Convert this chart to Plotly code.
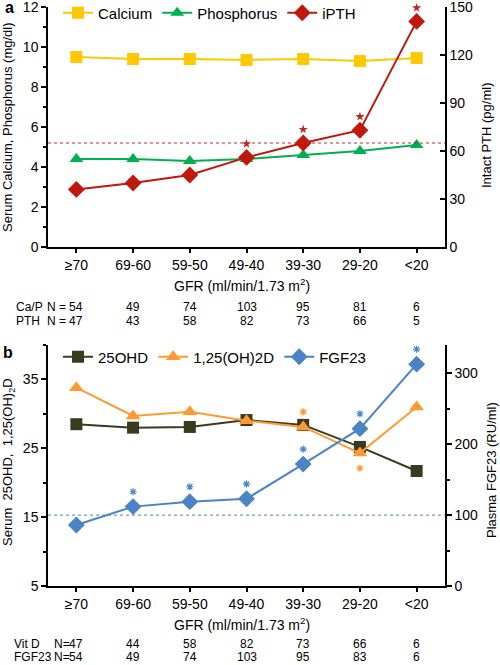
import plotly.graph_objects as go

# ---------------- data ----------------
gfr = ["≥70", "69-60", "59-50", "49-40", "39-30", "29-20", "<20"]

calcium = [9.5, 9.4, 9.4, 9.35, 9.4, 9.3, 9.45]
phosphorus = [4.4, 4.4, 4.3, 4.4, 4.6, 4.8, 5.1]
ipth = [36, 40, 45, 56, 65, 73, 141]
ipth_sig = [0, 0, 0, 1, 1, 1, 1]
pth_upper = 65
n_cap = [54, 49, 74, 103, 95, 81, 6]
n_pth = [47, 43, 58, 82, 73, 66, 5]

ohd25 = [28.5, 28.0, 28.1, 29.1, 28.4, 25.2, 21.7]
d125 = [33.8, 29.7, 30.3, 29.0, 28.1, 24.3, 31.0]
fgf23 = [86, 112, 119, 123, 172, 222, 313]
fgf_sig = [0, 1, 1, 1, 1, 1, 1]
d125_sig = [0, 0, 0, 0, 1, -1, 0]   # 1 = star above, -1 = star below
fgf_upper = 100
n_vitd = [47, 44, 58, 82, 73, 66, 6]
n_fgf = [54, 49, 74, 103, 95, 83, 6]

# ---------------- style ----------------
FONT = "Liberation Sans, Arial, sans-serif"
C_CA = "#FFC800"
C_P = "#00B050"
C_PTH = "#C0180C"
C_OHD = "#3A3A1E"
C_D125 = "#FF9A33"
C_FGF = "#4A84C4"

fig = go.Figure()

# ---- panel a ----
fig.add_trace(go.Scatter(x=gfr, y=calcium, name="Calcium", mode="lines+markers",
                         line=dict(color=C_CA, width=2),
                         marker=dict(symbol="square", size=12, color=C_CA),
                         xaxis="x", yaxis="y", legend="legend"))
fig.add_trace(go.Scatter(x=gfr, y=phosphorus, name="Phosphorus", mode="lines+markers",
                         line=dict(color=C_P, width=2),
                         marker=dict(symbol="triangle-up", size=12, color=C_P),
                         xaxis="x", yaxis="y", legend="legend"))
fig.add_trace(go.Scatter(x=gfr, y=ipth, name="iPTH", mode="lines+markers",
                         line=dict(color=C_PTH, width=2),
                         marker=dict(symbol="diamond", size=13, color=C_PTH),
                         xaxis="x", yaxis="y2", legend="legend"))
sx = [g for g, s in zip(gfr, ipth_sig) if s]
sy = [v + 8.5 for v, s in zip(ipth, ipth_sig) if s]
fig.add_trace(go.Scatter(x=sx, y=sy, mode="markers", showlegend=False, hoverinfo="skip",
                         cliponaxis=False,
                         marker=dict(symbol="star", size=7, color="#B8281E"),
                         xaxis="x", yaxis="y2"))

# ---- panel b ----
fig.add_trace(go.Scatter(x=gfr, y=ohd25, name="25OHD", mode="lines+markers",
                         line=dict(color=C_OHD, width=2),
                         marker=dict(symbol="square", size=12, color=C_OHD),
                         xaxis="x2", yaxis="y3", legend="legend2"))
fig.add_trace(go.Scatter(x=gfr, y=d125, name="1,25(OH)2D", mode="lines+markers",
                         line=dict(color=C_D125, width=2),
                         marker=dict(symbol="triangle-up", size=13, color=C_D125),
                         xaxis="x2", yaxis="y3", legend="legend2"))
fig.add_trace(go.Scatter(x=gfr, y=fgf23, name="FGF23", mode="lines+markers",
                         line=dict(color=C_FGF, width=2),
                         marker=dict(symbol="diamond", size=13, color=C_FGF),
                         xaxis="x2", yaxis="y4", legend="legend2"))
fx = [g for g, s in zip(gfr, fgf_sig) if s]
fy = [v + 21 for v, s in zip(fgf23, fgf_sig) if s]
fig.add_trace(go.Scatter(x=fx, y=fy, mode="markers", showlegend=False, hoverinfo="skip",
                         cliponaxis=False,
                         marker=dict(symbol="asterisk-open", size=6, color=C_FGF,
                                     line=dict(color=C_FGF, width=1.2)),
                         xaxis="x2", yaxis="y4"))
dx = [g for g, s in zip(gfr, d125_sig) if s]
dy = [v + 2.2 * s for v, s in zip(d125, d125_sig) if s]
fig.add_trace(go.Scatter(x=dx, y=dy, mode="markers", showlegend=False, hoverinfo="skip",
                         cliponaxis=False,
                         marker=dict(symbol="asterisk-open", size=6, color=C_D125,
                                     line=dict(color=C_D125, width=1.2)),
                         xaxis="x2", yaxis="y3"))

# ---------------- layout ----------------
TOP_A = 0.5855
TOP_B = 0.4162

xcommon = dict(type="category", categoryorder="array", categoryarray=gfr,
               range=[-0.5, 6.5], showline=True, linecolor="black", linewidth=1.5,
               ticks="outside", ticklen=4, tickcolor="black", tickwidth=1.5,
               tickfont=dict(size=14, color="black"), showgrid=False, zeroline=False)
ycommon = dict(showline=True, linecolor="black", linewidth=1.5, ticks="outside",
               ticklen=5, tickcolor="black", tickwidth=1.5, ticklabeloverflow="allow",
               tickfont=dict(size=14, color="black"), showgrid=False, zeroline=False)


def px_x(p):
    return (p - 48) / 397.0


def px_y(p):
    return (586 - p) / 579.0


fig.update_layout(
    width=500, height=665,
    margin=dict(l=48, r=55, t=7, b=79, autoexpand=False),
    paper_bgcolor="white", plot_bgcolor="white",
    font=dict(family=FONT, color="black"),
    xaxis=dict(domain=[0, 1], anchor="y", **xcommon),
    yaxis=dict(domain=[TOP_A, 1], range=[0, 12], dtick=2,
               minor=dict(dtick=1, ticks="outside", ticklen=3, tickcolor="black"),
               **ycommon),
    yaxis2=dict(overlaying="y", side="right", anchor="x", range=[0, 150], dtick=30,
                **{**ycommon, "ticks": "inside"}),
    xaxis2=dict(domain=[0, 1], anchor="y3", **xcommon),
    yaxis3=dict(domain=[0, TOP_B], range=[5, 40], tick0=5, dtick=10,
                minor=dict(dtick=5, ticks="outside", ticklen=3, tickcolor="black"),
                **ycommon),
    yaxis4=dict(overlaying="y3", side="right", anchor="x2", range=[0, 340], dtick=100,
                minor=dict(dtick=50, ticks="outside", ticklen=3, tickcolor="black"),
                **ycommon),
    legend=dict(orientation="h", x=px_x(58), y=px_y(13), xanchor="left", yanchor="middle",
                font=dict(size=15), bgcolor="rgba(0,0,0,0)", itemclick=False),
    legend2=dict(orientation="h", x=px_x(58), y=px_y(357), xanchor="left", yanchor="middle",
                 font=dict(size=15), bgcolor="rgba(0,0,0,0)", itemclick=False),
    showlegend=True,
)

# reference lines
fig.add_shape(type="line", xref="x domain", yref="y2", x0=0, x1=1, y0=pth_upper, y1=pth_upper,
              line=dict(color="#B03030", width=1, dash="dot"))
fig.add_shape(type="line", xref="x2 domain", yref="y4", x0=0, x1=1, y0=fgf_upper, y1=fgf_upper,
              line=dict(color=C_FGF, width=1, dash="dot"))

ann = []


def pa(text, x, y, size=13, angle=0, xanchor="center", bold=False, xref="paper"):
    ann.append(dict(text=f"<b>{text}</b>" if bold else text, x=x, y=y, xref=xref, yref="paper",
                    showarrow=False, textangle=angle, xanchor=xanchor, yanchor="middle",
                    font=dict(size=size, family=FONT, color="black")))


# panel labels
pa("a", px_x(9), px_y(7), size=16, bold=True)
pa("b", px_x(8), px_y(352), size=16, bold=True)
# axis titles
pa("Serum Calcium, Phosphorus (mg/dl)", px_x(8), px_y(127), angle=-90, size=13)
pa("Intact PTH (pg/ml)", px_x(486), px_y(135), angle=-90, size=13)
pa("Serum  25OHD,  1,25(OH)<sub>2</sub>D", px_x(8), px_y(462), angle=-90, size=13)
pa("Plasma FGF23 (RU/ml)", px_x(491), px_y(470), angle=-90, size=13)
pa("GFR (ml/min/1.73 m<sup>2</sup>)", px_x(242), px_y(285), size=14)
pa("GFR (ml/min/1.73 m<sup>2</sup>)", px_x(242), px_y(624), size=14)
# N rows
NS = 12
pa("Ca/P", px_x(14), px_y(307), size=NS, xanchor="left")
pa("N =", px_x(45), px_y(307), size=NS, xanchor="left")
pa("PTH", px_x(14), px_y(321), size=NS, xanchor="left")
pa("N =", px_x(45), px_y(321), size=NS, xanchor="left")
pa("Vit D", px_x(12), px_y(644), size=NS, xanchor="left")
pa("N=", px_x(52), px_y(644), size=NS, xanchor="left")
pa("FGF23", px_x(12), px_y(657), size=NS, xanchor="left")
pa("N=", px_x(52), px_y(657), size=NS, xanchor="left")
for i, (a1, a2, b1, b2) in enumerate(zip(n_cap, n_pth, n_vitd, n_fgf)):
    pa(str(a1), i, px_y(307), size=NS, xref="x")
    pa(str(a2), i, px_y(321), size=NS, xref="x")
    pa(str(b1), i, px_y(644), size=NS, xref="x2")
    pa(str(b2), i, px_y(657), size=NS, xref="x2")

fig.update_layout(annotations=ann)
fig.write_html("out.html", config={"displayModeBar": False},
               post_script="document.body.style.margin='0px';")
